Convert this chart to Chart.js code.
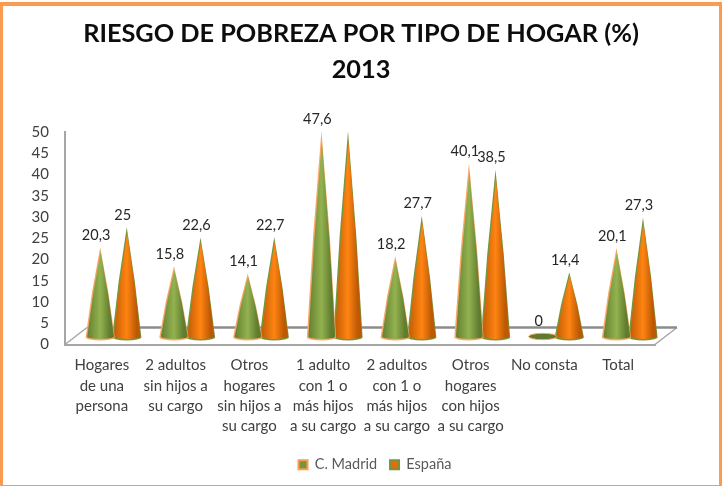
<!DOCTYPE html>
<html>
<head>
<meta charset="utf-8">
<title>Riesgo de pobreza</title>
<script src="https://cdn.jsdelivr.net/npm/chart.js@4"></script>
<style>
  html, body { margin: 0; padding: 0; background: #fff; }
  #wrap { position: relative; width: 722px; height: 486px; overflow: hidden; }
  #frame { position: absolute; inset: 2px 0 0 0; box-sizing: border-box; pointer-events: none;
           border: 3px solid #fb9b50; border-top-width: 4px; border-bottom-width: 1px; }
</style>
</head>
<body>
<div id="wrap">
  <canvas id="riesgo" width="722" height="486"></canvas>
  <div id="frame"></div>
</div>
<script>
const categories = [
  ['Hogares', 'de una', 'persona'],
  ['2 adultos', 'sin hijos a', 'su cargo'],
  ['Otros', 'hogares', 'sin hijos a', 'su cargo'],
  ['1 adulto', 'con 1 o', 'más hijos', 'a su cargo'],
  ['2 adultos', 'con 1 o', 'más hijos', 'a su cargo'],
  ['Otros', 'hogares', 'con hijos', 'a su cargo'],
  ['No consta'],
  ['Total']
];
const madrid = [20.3, 15.8, 14.1, 47.6, 18.2, 40.1, 0, 20.1];
const espana = [25, 22.6, 22.7, 47.6, 27.7, 38.5, 14.4, 27.3];
// the reference shows no number over this cone
const espanaSinEtiqueta = [3];
const yTicks = [0, 5, 10, 15, 20, 25, 30, 35, 40, 45, 50];

const FONT = 'Lato, "Open Sans", sans-serif';
const DEPTH_X = 22, DEPTH_Y = 17;

// cone outline with slightly bulged sides
function conePath(ctx, x, tipY, baseY, r, ry) {
  const midY = (tipY + baseY) / 2;
  ctx.beginPath();
  ctx.moveTo(x, tipY);
  ctx.quadraticCurveTo(x + r * 0.62, midY, x + r, baseY);
  ctx.ellipse(x, baseY, r, ry, 0, 0, Math.PI);
  ctx.quadraticCurveTo(x - r * 0.62, midY, x, tipY);
  ctx.closePath();
}

function drawCone(ctx, el, value, dark, light, edge) {
  const x = el.x + 11.6;
  const baseY = el.base - 8;
  const tipY = el.y - 11;
  const r = 14;
  const ry = 3.2;
  ctx.save();
  if (value === 0) {
    ctx.beginPath();
    ctx.ellipse(x, baseY, r, ry, 0, 0, Math.PI * 2);
    ctx.fillStyle = '#5f7a2e';
    ctx.fill();
    ctx.strokeStyle = edge;
    ctx.stroke();
    ctx.restore();
    return;
  }
  const grad = ctx.createLinearGradient(x - r, 0, x + r, 0);
  grad.addColorStop(0, dark);
  grad.addColorStop(0.5, light);
  grad.addColorStop(0.85, dark);
  grad.addColorStop(1, dark);
  // edge colour shows as a thin skin and tip behind the body
  conePath(ctx, x, tipY, baseY + 0.8, r + 0.6, ry);
  ctx.fillStyle = edge;
  ctx.fill();
  conePath(ctx, x + 0.4, tipY + (baseY - tipY) * 0.05, baseY, r - 0.6, ry - 0.6);
  ctx.fillStyle = grad;
  ctx.fill();
  ctx.restore();
}

const conePlugin = {
  id: 'conos',
  beforeDatasetsDraw(chart) {
    const { ctx, scales: { x, y } } = chart;
    const front = y.getPixelForValue(0);
    ctx.save();
    ctx.strokeStyle = '#a6a6a6';
    ctx.lineWidth = 1.5;
    ctx.beginPath();
    ctx.moveTo(x.left, front);
    ctx.lineTo(x.left + DEPTH_X, front - DEPTH_Y);
    ctx.moveTo(x.right, front);
    ctx.lineTo(x.right + DEPTH_X, front - DEPTH_Y);
    ctx.stroke();
    ctx.strokeStyle = '#8c8c8c';
    ctx.lineWidth = 2.5;
    ctx.beginPath();
    ctx.moveTo(x.left + DEPTH_X, front - DEPTH_Y);
    ctx.lineTo(x.right + DEPTH_X, front - DEPTH_Y);
    ctx.stroke();
    ctx.restore();
  },
  beforeDatasetDraw(chart, args) {
    const colors = args.index === 0
      ? ['#607c2f', '#93b24f', '#f9a768']
      : ['#bd5904', '#ff8412', '#76953c'];
    const values = chart.data.datasets[args.index].data;
    args.meta.data.forEach((el, j) => drawCone(chart.ctx, el, values[j], colors[0], colors[1], colors[2]));
    return false;
  },
  afterDatasetsDraw(chart) {
    const ctx = chart.ctx;
    ctx.save();
    ctx.font = '14.5px ' + FONT;
    ctx.fillStyle = '#262626';
    ctx.textAlign = 'center';
    ctx.textBaseline = 'middle';
    chart.data.datasets.forEach((ds, i) => {
      chart.getDatasetMeta(i).data.forEach((el, j) => {
        if (i === 1 && espanaSinEtiqueta.includes(j)) return;
        ctx.fillText(String(ds.data[j]).replace('.', ','), el.x + 7.5, el.y - 23);
      });
    });
    ctx.restore();
  },
  afterLayout(chart) {
    // legend sits a bit right of the middle in the reference
    chart.legend.left += 14;
    chart.legend.right += 14;
  }
};

new Chart(document.getElementById('riesgo'), {
  type: 'bar',
  data: {
    labels: categories,
    datasets: [
      { label: 'C. Madrid', data: madrid, backgroundColor: '#77933c', borderColor: '#fb9b50', borderWidth: 2 },
      { label: 'España', data: espana, backgroundColor: '#e46c0a', borderColor: '#77933c', borderWidth: 2 }
    ]
  },
  options: {
    responsive: false,
    animation: false,
    datasets: { bar: { categoryPercentage: 0.72, barPercentage: 1 } },
    layout: { padding: { top: 6, left: 0, right: 0, bottom: 4 } },
    scales: {
      x: {
        grid: { display: false },
        border: { color: '#a6a6a6', width: 2 },
        ticks: {
          color: '#404040', padding: 3, autoSkip: false, maxRotation: 0,
          font: { family: FONT, size: 15, lineHeight: 1.35 }
        },
        afterFit(scale) { scale.height = 100; }
      },
      y: {
        min: 0, max: 50,
        afterBuildTicks(scale) { scale.ticks = yTicks.map(value => ({ value })); },
        grid: { display: false },
        border: { color: '#a6a6a6', width: 2 },
        ticks: { color: '#404040', padding: 8, font: { family: FONT, size: 15 } },
        afterFit(scale) { scale.width = 65; }
      },
      // empty axis on the right keeps the plot at the reference width
      derecha: {
        position: 'right',
        grid: { display: false },
        border: { display: false },
        ticks: { display: false },
        afterFit(scale) { scale.width = 67; }
      }
    },
    plugins: {
      title: {
        display: true,
        text: ['RIESGO DE POBREZA POR TIPO DE HOGAR (%)', '2013'],
        color: '#0d0d0d',
        font: { family: FONT, size: 25.3, weight: 'bold', lineHeight: 1.45 },
        padding: { top: 9, bottom: 43.5 }
      },
      legend: {
        position: 'bottom',
        labels: {
          color: '#595959', boxWidth: 9, boxHeight: 9, padding: 13,
          font: { family: FONT, size: 14.5 }
        }
      },
      tooltip: { enabled: false }
    }
  },
  plugins: [conePlugin]
});
</script>
</body>
</html>
